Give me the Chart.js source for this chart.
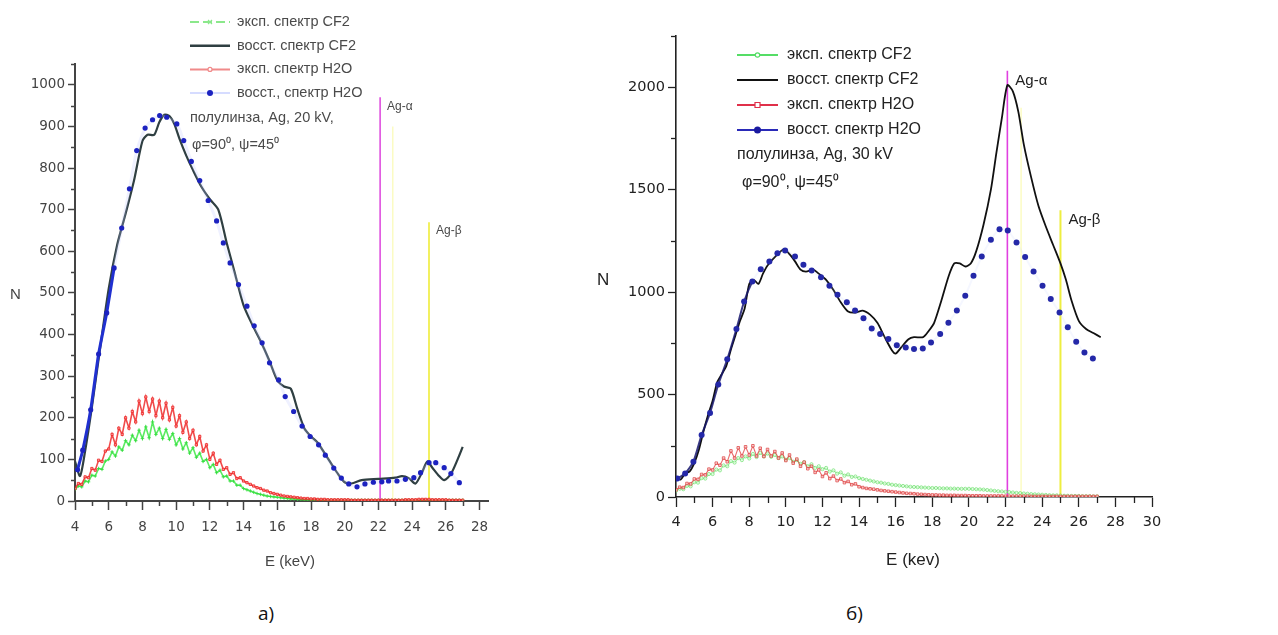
<!DOCTYPE html>
<html>
<head>
<meta charset="utf-8">
<script src="https://cdn.jsdelivr.net/npm/chart.js@4.4.1/dist/chart.umd.min.js"></script>
<style>
  body { margin: 0; background: #fff; width: 1278px; height: 635px; overflow: hidden; position: relative; }
  canvas { position: absolute; top: 0; }
  #leftChart { left: 0; }
  #rightChart { left: 580px; }
  .cap { position: absolute; font-family: "Open Sans", sans-serif; font-size: 19px; color: #111; }
</style>
</head>
<body>
<canvas id="leftChart" width="640" height="600"></canvas>
<canvas id="rightChart" width="698" height="600"></canvas>
<div class="cap" style="left:258px; top:600px">а)</div>
<div class="cap" style="left:846px; top:600px">б)</div>
<script>
// ---- data: left panel (Ag, 20 kV) ----
const LEFT_X_TICKS = [4, 6, 8, 10, 12, 14, 16, 18, 20, 22, 24, 26, 28];
const LEFT_Y_TICKS = [0, 100, 200, 300, 400, 500, 600, 700, 800, 900, 1000];
const LEFT_LABELS = ['эксп. спектр CF2', 'восст. спектр CF2', 'эксп. спектр H2O', 'восст., спектр H2O'];
const LEFT_NOTES = ['полулинза, Ag, 20 kV,', 'φ=90⁰, ψ=45⁰'];

// experimental spectra share one energy grid (keV)
const EXP_E = [
  4.0, 4.2, 4.4, 4.6, 4.8, 5.0, 5.2, 5.4, 5.6, 5.8,
  6.0, 6.2, 6.4, 6.6, 6.8, 7.0, 7.2, 7.4, 7.6, 7.8,
  8.0, 8.2, 8.4, 8.6, 8.8, 9.0, 9.2, 9.4, 9.6, 9.8,
  10.0, 10.2, 10.4, 10.6, 10.8, 11.0, 11.2, 11.4, 11.6, 11.8,
  12.0, 12.2, 12.4, 12.6, 12.8, 13.0, 13.2, 13.4, 13.6, 13.8,
  14.0, 14.2, 14.4, 14.6, 14.8, 15.0, 15.2, 15.4, 15.6, 15.8,
  16.0, 16.2, 16.4, 16.6, 16.8, 17.0, 17.2, 17.4, 17.6, 17.8,
  18.0, 18.2, 18.4, 18.6, 18.8, 19.0, 19.2, 19.4, 19.6, 19.8,
  20.0, 20.2, 20.4, 20.6, 20.8, 21.0, 21.2, 21.4, 21.6, 21.8,
  22.0, 22.2, 22.4, 22.6, 22.8, 23.0, 23.2, 23.4, 23.6, 23.8,
  24.0, 24.2, 24.4, 24.6, 24.8, 25.0, 25.2, 25.4, 25.6, 25.8,
  26.0, 26.2, 26.4, 26.6, 26.8, 27.0
];
const LEFT_EXP_H2O = [
  30, 42, 40, 58, 56, 78, 74, 98, 95, 120,
  125, 160, 135, 175, 160, 200, 175, 215, 190, 240,
  210, 250, 215, 245, 205, 240, 200, 235, 195, 225,
  180, 205, 165, 190, 150, 170, 135, 155, 120, 135,
  100, 115, 88, 98, 76, 80, 64, 68, 54, 56,
  48, 44, 40, 36, 32, 30, 26, 24, 20, 18,
  16, 14, 12, 11, 10, 9, 8, 7, 6, 6,
  5, 5, 4, 4, 4, 3, 3, 3, 3, 3,
  3, 3, 2, 2, 2, 2, 2, 2, 2, 2,
  2, 2, 2, 2, 2, 2, 2, 2, 3, 3,
  3, 3, 4, 4, 4, 4, 3, 3, 3, 3,
  3, 2, 2, 2, 2, 2
];
const LEFT_EXP_CF2 = [
  28, 36, 34, 48, 46, 62, 60, 78, 76, 96,
  100, 118, 108, 130, 122, 145, 135, 158, 145, 170,
  150, 178, 152, 190, 160, 175, 150, 172, 148, 162,
  135, 150, 125, 140, 115, 128, 105, 115, 95, 100,
  80, 88, 68, 74, 58, 60, 48, 48, 38, 38,
  30, 27, 24, 21, 18, 16, 14, 12, 11, 10,
  9, 8, 7, 6, 5, 5, 4, 4, 3, 3,
  3, 3, 3, 2, 2, 2, 2, 2, 2, 2,
  2, 2, 2, 2, 2, 2, 2, 2, 2, 2,
  2, 2, 2, 2, 2, 2, 2, 2, 2, 2,
  2, 2, 2, 2, 2, 2, 2, 2, 2, 2,
  2, 2, 2, 2, 2, 2
];
const LEFT_FIT_E = [4.0, 4.3, 4.6, 5.0, 5.5, 6.0, 6.5, 7.0, 7.5, 8.0, 8.3, 8.7, 9.0, 9.3, 9.6, 9.9, 10.2, 10.6, 11.0, 11.5,
  12.0, 12.5, 13.0, 13.5, 14.0, 14.5, 15.0, 15.5, 16.0, 16.4, 16.8, 17.2, 17.6, 18.0, 18.4, 18.8, 19.2, 19.6, 20.0, 20.4,
  21.0, 22.0, 23.0, 23.4, 23.8, 24.2, 24.6, 24.9, 25.2, 25.6, 25.9, 26.3, 26.7, 27.0];
const LEFT_FIT_CF2 = [95, 60, 120, 225, 370, 510, 615, 690, 770, 865, 880, 880, 910, 928, 925, 905, 870, 830, 795, 755,
  725, 700, 620, 545, 470, 425, 385, 340, 290, 275, 270, 220, 175, 155, 140, 115, 90, 65, 45, 42,
  50, 53, 56, 60, 55, 42, 70, 95, 80, 60, 50, 65, 100, 130];
const LEFT_DOT_E = [4.15, 4.46, 4.93, 5.40, 5.88, 6.32, 6.77, 7.23, 7.66, 8.16, 8.60, 9.02, 9.44, 10.04, 10.45, 10.90, 11.40,
  11.90, 12.40, 12.80, 13.20, 13.70, 14.20, 14.63, 15.10, 15.54, 16.08, 16.47, 16.97, 17.47, 17.95, 18.45, 18.85,
  19.35, 19.80, 20.24, 20.73, 21.20, 21.70, 22.20, 22.60, 23.10, 23.60, 24.10, 24.50, 25.00, 25.40, 25.90, 26.30, 26.80];
const LEFT_DOT_H2O = [75, 122, 219, 353, 452, 560, 656, 750, 842, 896, 916, 926, 922, 906, 866, 816, 770,
  722, 673, 620, 572, 520, 468, 421, 380, 332, 291, 251, 215, 180, 155, 135, 110,
  79, 55, 41, 34, 41, 45, 46, 48, 48, 52, 56, 68, 92, 92, 80, 66, 44];
const LEFT_AG_TOP = [970, 670];

// ---- data: right panel (Ag, 30 kV) ----
const RIGHT_X_TICKS = [4, 6, 8, 10, 12, 14, 16, 18, 20, 22, 24, 26, 28, 30];
const RIGHT_Y_TICKS = [0, 500, 1000, 1500, 2000];
const RIGHT_LABELS = ['эксп. спектр CF2', 'восст. спектр CF2', 'эксп. спектр H2O', 'восст. спектр H2O'];
const RIGHT_NOTES = ['полулинза, Ag, 30 kV', 'φ=90⁰, ψ=45⁰'];
const RIGHT_EXP_H2O = [
  35, 48, 46, 66, 64, 88, 86, 110, 108, 136,
  132, 165, 155, 190, 172, 225, 190, 240, 200, 245,
  205, 250, 200, 238, 198, 232, 200, 222, 190, 215,
  178, 205, 165, 185, 150, 170, 138, 150, 120, 132,
  100, 118, 90, 102, 80, 88, 70, 76, 60, 64,
  50, 46, 42, 40, 38, 35, 32, 30, 28, 26,
  24, 22, 20, 18, 17, 16, 14, 13, 12, 11,
  10, 10, 9, 9, 8, 8, 8, 7, 7, 7,
  6, 6, 6, 6, 5, 5, 5, 5, 5, 5,
  4, 4, 4, 4, 4, 4, 4, 3, 3, 3,
  3, 3, 3, 3, 3, 3, 3, 3, 3, 3,
  3, 3, 3, 3, 3, 3
];
const RIGHT_EXP_CF2 = [
  30, 40, 38, 54, 52, 72, 70, 92, 90, 112,
  112, 134, 130, 154, 150, 175, 168, 190, 180, 198,
  188, 210, 195, 215, 198, 212, 196, 205, 190, 198,
  182, 190, 172, 180, 162, 170, 150, 160, 142, 150,
  136, 142, 124, 130, 114, 120, 104, 110, 98, 100,
  92, 88, 84, 80, 76, 72, 70, 66, 64, 60,
  58, 56, 54, 52, 50, 49, 48, 47, 46, 45,
  44, 44, 43, 42, 42, 41, 41, 40, 40, 40,
  40, 39, 38, 37, 36, 34, 32, 30, 28, 27,
  25, 24, 22, 20, 19, 17, 16, 14, 13, 12,
  11, 10, 9, 8, 8, 7, 6, 6, 5, 5,
  5, 4, 4, 4, 3, 3
];
const RIGHT_FIT_E = [4.0, 4.25, 4.5, 4.75, 5.0, 5.25, 5.5, 5.75, 6.0, 6.25, 6.5, 6.75, 7.0, 7.25, 7.5, 7.75, 8.0, 8.25, 8.5, 8.75,
  9.0, 9.5, 9.9, 10.2, 10.5, 10.8, 11.1, 11.5, 11.8, 12.2, 12.6, 13.0, 13.4, 13.8, 14.2, 14.6, 15.0, 15.4, 15.8, 16.0,
  16.3, 16.7, 17.0, 17.5, 17.8, 18.1, 18.5, 18.9, 19.2, 19.5, 19.8, 20.1, 20.4, 20.8, 21.2, 21.5, 21.8, 22.1, 22.4, 22.7,
  23.0, 23.4, 23.8, 24.2, 24.6, 25.0, 25.3, 25.6, 26.0, 26.4, 26.8, 27.2];
const RIGHT_FIT_CF2 = [100, 85, 115, 125, 165, 230, 320, 400, 470, 560, 600, 640, 720, 790, 860, 920, 1040, 1060, 1040, 1090,
  1130, 1180, 1210, 1185, 1150, 1110, 1100, 1110, 1090, 1060, 1010, 950, 905, 900, 910, 890, 850, 780, 715, 700,
  730, 770, 780, 780, 810, 850, 960, 1080, 1140, 1140, 1125, 1140, 1200, 1330, 1500, 1680, 1850, 2010, 1980, 1880,
  1720, 1560, 1420, 1320, 1230, 1140, 1060, 960, 860, 820, 800, 780];
const RIGHT_DOT_E = [4.07, 4.5, 4.95, 5.4, 5.86, 6.31, 6.8, 7.3, 7.72, 8.17, 8.63, 9.1, 9.54, 9.96, 10.5, 10.96, 11.41,
  11.92, 12.38, 12.82, 13.33, 13.78, 14.24, 14.69, 15.15, 15.6, 16.06, 16.55, 17.0, 17.48, 17.93, 18.43, 18.88,
  19.34, 19.8, 20.25, 20.7, 21.2, 21.67, 22.12, 22.6, 23.07, 23.53, 24.02, 24.47, 24.95, 25.4, 25.86, 26.31, 26.77];
const RIGHT_DOT_H2O = [90, 115, 172, 303, 410, 549, 672, 820, 954, 1052, 1112, 1150, 1190, 1203, 1174, 1133, 1106,
  1072, 1031, 987, 950, 910, 872, 823, 795, 771, 741, 730, 722, 725, 754, 795, 850,
  910, 982, 1080, 1174, 1255, 1307, 1301, 1242, 1171, 1101, 1031, 966, 901, 828, 758, 705, 676];
const RIGHT_AG_TOP = [2080, 1400];

// Ag-alpha / Ag-beta line energies, plus the faint line next to Ag-alpha
const AG_E = [22.1, 25.0];
const AG_NAMES = ['Ag-α', 'Ag-β'];
const FAINT_E = 22.85;

function pts(xs, ys) {
  return xs.map((x, i) => ({x: x, y: ys[i]}));
}

function vline(e, top, color, width) {
  return {type: 'line', data: [{x: e, y: 0}, {x: e, y: top}], borderColor: color, borderWidth: width,
          pointRadius: 0, tension: 0};
}

function drawMarker(ctx, kind, x, y, color, size) {
  ctx.save();
  ctx.strokeStyle = color; ctx.fillStyle = color; ctx.lineWidth = 1.2;
  ctx.beginPath();
  if (kind === 'dot') { ctx.arc(x, y, size, 0, Math.PI * 2); ctx.fill(); }
  else if (kind === 'ring') { ctx.fillStyle = '#fff'; ctx.arc(x, y, size, 0, Math.PI * 2); ctx.fill(); ctx.stroke(); }
  else if (kind === 'square') { ctx.fillStyle = '#fff'; ctx.rect(x - size, y - size, size * 2, size * 2); ctx.fill(); ctx.stroke(); }
  else if (kind === 'cross') { ctx.moveTo(x - size, y - size); ctx.lineTo(x + size, y + size); ctx.moveTo(x + size, y - size); ctx.lineTo(x - size, y + size); ctx.stroke(); }
  ctx.restore();
}

// draws minor ticks, legend, notes, Ag labels and axis titles
function overlay(o) {
  return {
    id: 'overlay',
    afterDraw(chart) {
      const ctx = chart.ctx, area = chart.chartArea;
      const xs = chart.scales.x, ys = chart.scales.y;
      ctx.save();
      ctx.strokeStyle = o.axisColor;
      ctx.lineWidth = o.tickWidth;
      o.xMinor.forEach(v => {
        const px = Math.round(xs.getPixelForValue(v)) + 0.5;
        ctx.beginPath(); ctx.moveTo(px, area.bottom); ctx.lineTo(px, area.bottom + o.xMinorLen); ctx.stroke();
      });
      o.yMinor.forEach(v => {
        const py = Math.round(ys.getPixelForValue(v)) + 0.5;
        ctx.beginPath(); ctx.moveTo(area.left, py); ctx.lineTo(area.left - o.yMinorLen, py); ctx.stroke();
      });

      // legend
      ctx.font = o.legendFont;
      ctx.textBaseline = 'middle';
      ctx.textAlign = 'left';
      o.legendOrder.forEach((idx, row) => {
        const ds = chart.data.datasets[idx];
        const k = ds.key;
        const y = o.legendY + row * o.legendGap;
        ctx.strokeStyle = k.color; ctx.lineWidth = k.width;
        ctx.setLineDash(k.dash || []);
        ctx.beginPath(); ctx.moveTo(o.legendX, y); ctx.lineTo(o.legendX + o.legendLen, y); ctx.stroke();
        ctx.setLineDash([]);
        if (k.marker) drawMarker(ctx, k.marker, o.legendX + o.legendLen / 2, y, k.markerColor, k.markerSize);
        ctx.fillStyle = o.textColor;
        ctx.fillText(ds.label, o.legendX + o.legendLen + o.legendTextGap, y);
      });
      o.notes.forEach((t, i) => ctx.fillText(t, o.notePos[i][0], o.notePos[i][1]));

      // Ag line labels
      ctx.font = o.agFont;
      AG_NAMES.forEach((name, i) => {
        ctx.fillText(name, xs.getPixelForValue(AG_E[i]) + o.agDx, ys.getPixelForValue(o.agTop[i]) + o.agDy);
      });

      // axis titles
      ctx.font = o.titleFont;
      ctx.fillStyle = o.axisColor;
      ctx.fillText('N', o.nPos[0], o.nPos[1]);
      ctx.textAlign = 'center';
      ctx.fillText(o.xTitle, o.xTitlePos[0], o.xTitlePos[1]);
      ctx.restore();
    }
  };
}

function scaleOpts(c, axis) {
  const isX = axis === 'x';
  return {
    type: 'linear',
    min: isX ? c.xMin : 0,
    max: isX ? c.xMax : c.yMax,
    afterBuildTicks: a => { a.ticks = (isX ? c.xTicks : c.yTicks).map(v => ({value: v})); },
    afterFit: s => { if (isX) s.height = 40; else s.width = c.yWidth; },
    grid: {display: true, drawOnChartArea: false, drawTicks: true, tickLength: isX ? c.xTickLen : c.yTickLen,
           tickWidth: c.tickWidth, tickColor: c.axisColor},
    border: {display: true, color: c.axisColor, width: c.axisWidth},
    ticks: {padding: isX ? c.xPad : c.yPad, color: c.axisColor, autoSkip: false, maxRotation: 0,
            font: {family: 'DejaVu Sans', size: c.tickSize}, callback: v => String(v)}
  };
}

function makeChart(id, c) {
  return new Chart(document.getElementById(id), {
    type: 'line',
    data: {datasets: c.datasets},
    options: {
      responsive: false,
      animation: false,
      events: [],
      layout: {padding: c.padding},
      plugins: {legend: {display: false}, tooltip: {enabled: false}},
      scales: {x: scaleOpts(c, 'x'), y: scaleOpts(c, 'y')}
    },
    plugins: [overlay(c.overlay)]
  });
}

// ---- left chart ----
const LEFT_SOLID_UNTIL = 6.0;
makeChart('leftChart', {
  xMin: 4, xMax: 28.5, yMax: 1050,
  xTicks: LEFT_X_TICKS, yTicks: LEFT_Y_TICKS,
  yWidth: 75, xTickLen: 9, yTickLen: 7, xPad: 9, yPad: 3,
  tickWidth: 1.5, axisWidth: 2, axisColor: '#444', tickSize: 13.5,
  padding: {top: 64, right: 152, bottom: 59, left: 0},
  datasets: [
    {label: LEFT_LABELS[3], data: pts(LEFT_DOT_E, LEFT_DOT_H2O), borderWidth: 3, tension: 0.2,
     segment: {borderColor: s => s.p0.parsed.x < LEFT_SOLID_UNTIL ? '#2030d0' : 'rgba(190,200,255,0.25)'},
     pointRadius: 2.6, pointBackgroundColor: '#1c22c0', pointBorderWidth: 0,
     key: {color: '#c9d0ff', width: 1.5, marker: 'dot', markerColor: '#1c22c0', markerSize: 3}},
    {label: LEFT_LABELS[1], data: pts(LEFT_FIT_E, LEFT_FIT_CF2), borderColor: '#2f3f42', borderWidth: 2.2,
     tension: 0.25, pointRadius: 0,
     key: {color: '#2f3f42', width: 2.5}},
    {label: LEFT_LABELS[2], data: pts(EXP_E, LEFT_EXP_H2O), borderColor: 'rgba(238,30,30,0.8)', borderWidth: 1.6,
     tension: 0, pointRadius: 1.6, pointStyle: 'rect', pointBorderColor: 'rgba(238,30,30,0.8)',
     pointBackgroundColor: 'rgba(255,200,200,0.6)', pointBorderWidth: 1,
     key: {color: '#f08a8a', width: 2, marker: 'ring', markerColor: '#f08a8a', markerSize: 2}},
    {label: LEFT_LABELS[0], data: pts(EXP_E, LEFT_EXP_CF2), borderColor: 'rgba(50,230,60,0.8)', borderWidth: 1.6,
     tension: 0, pointRadius: 1.8, pointStyle: 'cross', pointBorderColor: 'rgba(50,220,60,0.8)', pointBorderWidth: 1,
     key: {color: '#8be88b', width: 2, dash: [9, 4], marker: 'cross', markerColor: '#8be88b', markerSize: 2}},
    vline(AG_E[0], LEFT_AG_TOP[0], '#dd44dd', 1.5),
    vline(FAINT_E, 900, 'rgba(250,250,170,0.7)', 1.5),
    vline(AG_E[1], LEFT_AG_TOP[1], '#f2f060', 2)
  ],
  overlay: {
    axisColor: '#444', tickWidth: 1.5, xMinor: [5, 7, 9, 11, 13, 15, 17, 19, 21, 23, 25, 27],
    yMinor: [50, 150, 250, 350, 450, 550, 650, 750, 850, 950, 1050], xMinorLen: 5, yMinorLen: 4,
    legendFont: '14.5px "Liberation Sans", Arial, sans-serif', textColor: '#4a4a4a',
    legendOrder: [3, 1, 2, 0], legendX: 190, legendY: 22, legendGap: 23.7, legendLen: 40, legendTextGap: 7,
    notes: LEFT_NOTES, notePos: [[190, 118], [192, 145]],
    agFont: '12px "Liberation Sans", Arial, sans-serif', agTop: LEFT_AG_TOP, agDx: 7, agDy: 9,
    titleFont: '15px "Liberation Sans", Arial, sans-serif', nPos: [10, 295],
    xTitle: 'E (keV)', xTitlePos: [290, 562]
  }
});

// ---- right chart ----
const RIGHT_SOLID_UNTIL = 7.8;
makeChart('rightChart', {
  xMin: 4, xMax: 30, yMax: 2250,
  xTicks: RIGHT_X_TICKS, yTicks: RIGHT_Y_TICKS,
  yWidth: 96, xTickLen: 10, yTickLen: 8, xPad: 7, yPad: 3,
  tickWidth: 1.3, axisWidth: 1.6, axisColor: '#222', tickSize: 14.5,
  padding: {top: 36, right: 126, bottom: 63, left: 0},
  datasets: [
    {label: RIGHT_LABELS[3], data: pts(RIGHT_DOT_E, RIGHT_DOT_H2O), borderWidth: 2, tension: 0.2,
     segment: {borderColor: s => s.p0.parsed.x < RIGHT_SOLID_UNTIL ? 'rgba(25,25,110,0.85)' : 'rgba(190,200,255,0.15)'},
     pointRadius: 3, pointBackgroundColor: '#2428a8', pointBorderWidth: 0,
     key: {color: '#2a2ab8', width: 2, marker: 'dot', markerColor: '#1a1aa0', markerSize: 3.5}},
    {label: RIGHT_LABELS[1], data: pts(RIGHT_FIT_E, RIGHT_FIT_CF2), borderColor: '#111', borderWidth: 1.8,
     tension: 0.25, pointRadius: 0,
     key: {color: '#111', width: 2.2}},
    {label: RIGHT_LABELS[2], data: pts(EXP_E, RIGHT_EXP_H2O), borderColor: 'rgba(225,60,60,0.75)', borderWidth: 1.1,
     tension: 0, pointRadius: 1.8, pointStyle: 'rect', pointBorderColor: 'rgba(220,60,60,0.75)',
     pointBackgroundColor: 'rgba(255,240,240,0.6)', pointBorderWidth: 1,
     key: {color: '#e0304a', width: 2.2, marker: 'square', markerColor: '#e0304a', markerSize: 2.5}},
    {label: RIGHT_LABELS[0], data: pts(EXP_E, RIGHT_EXP_CF2), borderColor: 'rgba(90,220,90,0.6)', borderWidth: 1.1,
     tension: 0, pointRadius: 1.6, pointStyle: 'circle', pointBorderColor: 'rgba(90,220,90,0.6)',
     pointBackgroundColor: 'rgba(240,255,240,0.6)', pointBorderWidth: 1,
     key: {color: '#55dd66', width: 2.2, marker: 'ring', markerColor: '#55dd66', markerSize: 2.2}},
    vline(AG_E[0], RIGHT_AG_TOP[0], '#e040e0', 1.6),
    vline(FAINT_E, 1900, 'rgba(250,250,170,0.7)', 1.5),
    vline(AG_E[1], RIGHT_AG_TOP[1], '#eeee40', 2)
  ],
  overlay: {
    axisColor: '#222', tickWidth: 1.3, xMinor: [5, 7, 9, 11, 13, 15, 17, 19, 21, 23, 25, 27, 29],
    yMinor: [250, 750, 1250, 1750, 2250], xMinorLen: 6, yMinorLen: 5,
    legendFont: '16px "Liberation Sans", Arial, sans-serif', textColor: '#222',
    legendOrder: [3, 1, 2, 0], legendX: 157, legendY: 55, legendGap: 25, legendLen: 41, legendTextGap: 9,
    notes: RIGHT_NOTES, notePos: [[157, 155], [162, 183]],
    agFont: '15px "Liberation Sans", Arial, sans-serif', agTop: RIGHT_AG_TOP, agDx: 8, agDy: 10,
    titleFont: '17px "Liberation Sans", Arial, sans-serif', nPos: [17, 280],
    xTitle: 'E (kev)', xTitlePos: [333, 560]
  }
});
</script>
</body>
</html>
